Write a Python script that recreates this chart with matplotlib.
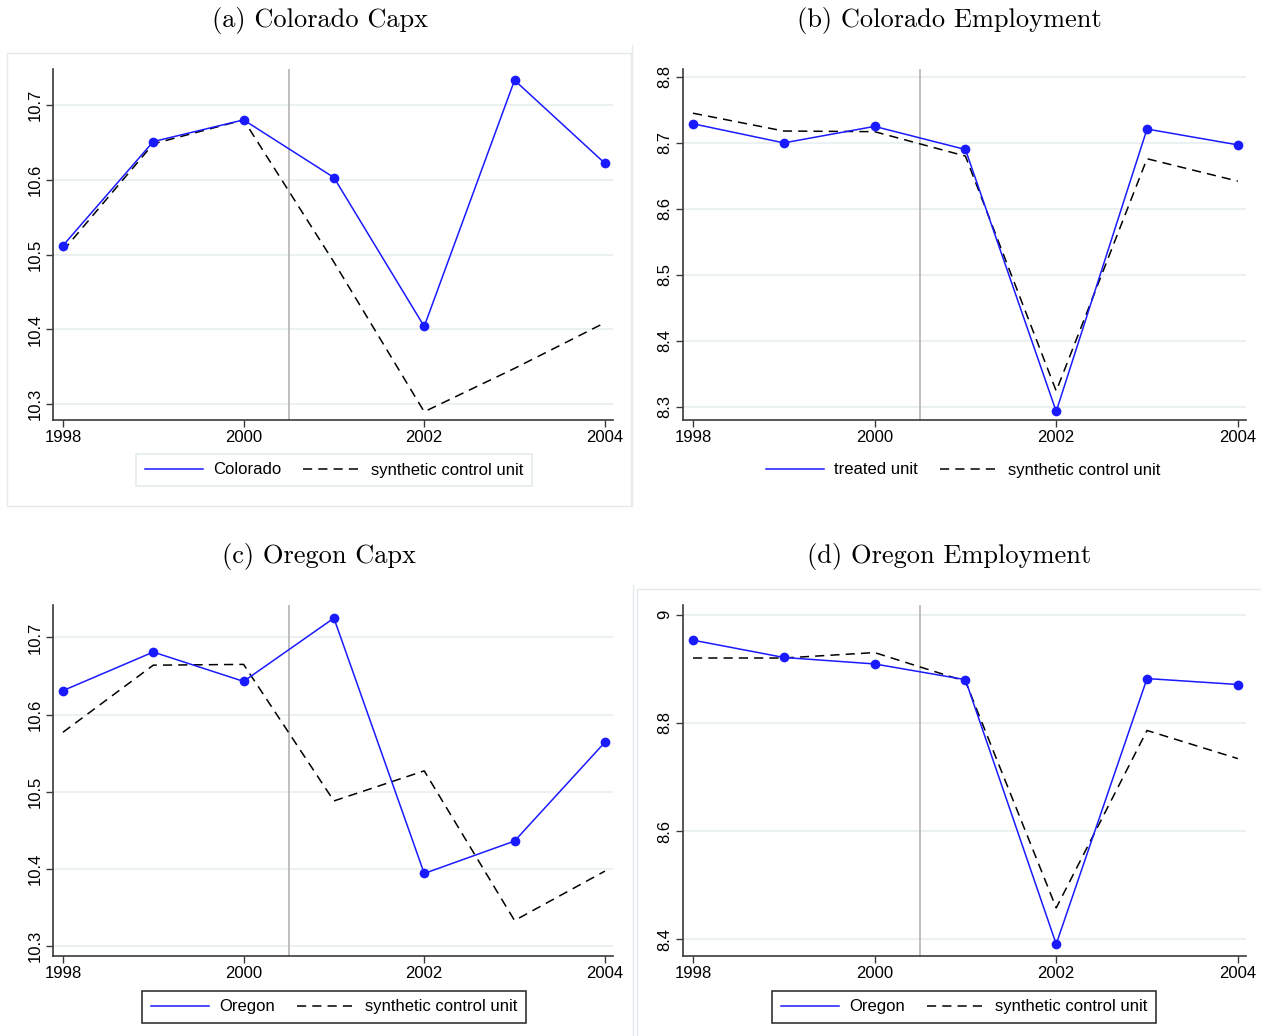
import matplotlib
matplotlib.use("Agg")
import matplotlib.pyplot as plt
from matplotlib.lines import Line2D
from matplotlib.patches import Rectangle

plt.rcParams['font.family'] = ['Liberation Sans', 'DejaVu Sans']

years = [1998, 1999, 2000, 2001, 2002, 2003, 2004]

co_capx_treated = [10.512, 10.651, 10.680, 10.603, 10.404, 10.733, 10.622]
co_capx_synth = [10.505, 10.648, 10.680, 10.490, 10.290, 10.348, 10.409]

co_emp_treated = [8.729, 8.700, 8.725, 8.690, 8.293, 8.721, 8.697]
co_emp_synth = [8.745, 8.718, 8.717, 8.680, 8.324, 8.676, 8.642]

or_capx_treated = [10.631, 10.681, 10.643, 10.725, 10.394, 10.436, 10.564]
or_capx_synth = [10.577, 10.664, 10.665, 10.488, 10.527, 10.333, 10.397]

or_emp_treated = [8.953, 8.921, 8.909, 8.880, 8.391, 8.882, 8.871]
or_emp_synth = [8.920, 8.920, 8.930, 8.877, 8.458, 8.786, 8.734]

titles = ["(a) Colorado Capx", "(b) Colorado Employment",
          "(c) Oregon Capx", "(d) Oregon Employment"]
treated_labels = ["Colorado", "treated unit", "Oregon", "Oregon"]
synth_label = "synthetic control unit"
xticks = [1998, 2000, 2002, 2004]
yticks_list = [[10.3, 10.4, 10.5, 10.6, 10.7],
               [8.3, 8.4, 8.5, 8.6, 8.7, 8.8],
               [10.3, 10.4, 10.5, 10.6, 10.7],
               [8.4, 8.6, 8.8, 9]]
ytick_labels = [["10.3", "10.4", "10.5", "10.6", "10.7"],
                ["8.3", "8.4", "8.5", "8.6", "8.7", "8.8"],
                ["10.3", "10.4", "10.5", "10.6", "10.7"],
                ["8.4", "8.6", "8.8", "9"]]
ylims = [(10.279, 10.748), (8.280, 8.812), (10.287, 10.742), (8.369, 9.018)]
treatment_year = 2000.5

series = [(co_capx_treated, co_capx_synth), (co_emp_treated, co_emp_synth),
          (or_capx_treated, or_capx_synth), (or_emp_treated, or_emp_synth)]

W, H = 1261, 1036
fig = plt.figure(figsize=(W / 100, H / 100), dpi=100)
fig.patch.set_facecolor('white')

def fx(px):
    return px / W

def fy(py):
    return 1 - py / H

frame_col = '#e4eaec'
for (x0, y0, x1, y1) in [(7, 53, 631, 506), (637, 589, 1262, 1040)]:
    fig.patches.append(Rectangle((fx(x0), fy(y1)), fx(x1 - x0), (y1 - y0) / H,
                                 transform=fig.transFigure, fill=False,
                                 edgecolor=frame_col, lw=1, zorder=0))
fig.add_artist(Line2D([fx(632), fx(632)], [fy(45), fy(506)],
                      transform=fig.transFigure, color=frame_col, lw=1))
fig.add_artist(Line2D([fx(633), fx(633)], [fy(585), fy(1036)],
                      transform=fig.transFigure, color=frame_col, lw=1))

axes_px = [(53, 69, 613, 420), (683, 69, 1246, 420),
           (53, 605, 613, 956), (683, 605, 1246, 956)]
title_pos = [(320, 20), (949, 20), (319, 556), (949, 556)]
legend_pos = [(334, 470), (963, 470), (334, 1007), (964, 1007)]
legend_frame = [('#dde6e8', True), (None, False), ('black', True), ('black', True)]

blue = '#1a1aff'
grid_col = '#e8eff1'
spine_col = '#3a3a3a'

for i in range(4):
    x0, y0, x1, y1 = axes_px[i]
    ax = fig.add_axes([fx(x0), fy(y1), fx(x1 - x0), (y1 - y0) / H])
    tr, sy = series[i]
    for yt in yticks_list[i]:
        ax.axhline(yt, color=grid_col, lw=1.2, zorder=0)
    ax.axvline(treatment_year, color='#b4b4b4', lw=1.2, zorder=1)
    ax.plot(years, sy, color='black', lw=1.1, ls=(0, (6, 4)), zorder=2)
    ax.plot(years, tr, color=blue, lw=1.1, marker='o', markersize=7,
            markeredgewidth=0, zorder=3)
    ax.set_xlim(1997.89, 2004.09)
    ax.set_ylim(*ylims[i])
    ax.set_xticks(xticks)
    ax.set_xticklabels([str(x) for x in xticks])
    ax.set_yticks(yticks_list[i])
    ax.set_yticklabels(ytick_labels[i], rotation=90, va='center')
    for s in ['top', 'right']:
        ax.spines[s].set_visible(False)
    for s in ['left', 'bottom']:
        ax.spines[s].set_color(spine_col)
        ax.spines[s].set_linewidth(1.2)
    ax.tick_params(axis='both', direction='out', length=5, width=1.0,
                   color=spine_col, labelsize=12, labelcolor='black', pad=2.5)
    ax.set_facecolor('white')

    tx, ty = title_pos[i]
    fig.text(fx(tx), fy(ty), titles[i], ha='center', va='center',
             family=['cmr10'], fontsize=19)

    handles = [Line2D([], [], color=blue, lw=1.1),
               Line2D([], [], color='black', lw=1.1, ls=(0, (6, 4)))]
    lx, ly = legend_pos[i]
    ec, on = legend_frame[i]
    leg = fig.legend(handles, [treated_labels[i], synth_label], loc='center',
                     bbox_to_anchor=(fx(lx), fy(ly)), ncol=2, fontsize=12,
                     frameon=on, fancybox=False, handlelength=3.5,
                     columnspacing=1.3, handletextpad=0.6, borderpad=0.5)
    if on:
        leg.get_frame().set_edgecolor(ec)
        leg.get_frame().set_linewidth(1.2)

fig.savefig('out.png', dpi=100, facecolor='white')
